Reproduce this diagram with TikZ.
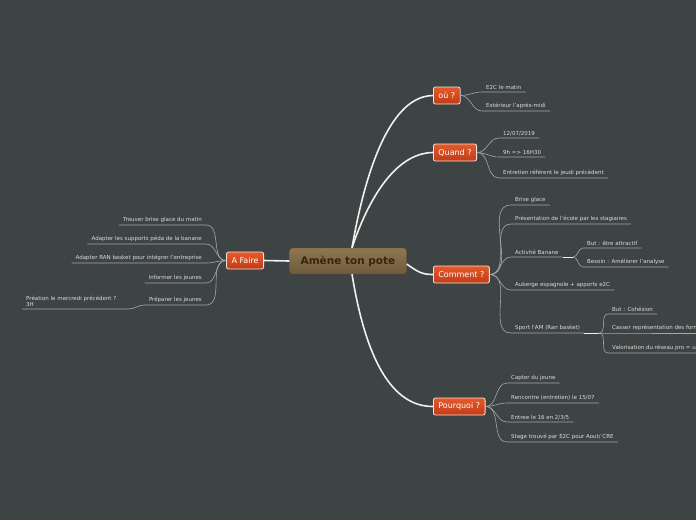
\documentclass[tikz,border=0pt]{standalone}
\usepackage{fontspec}
\setmainfont{DejaVu Sans}
\definecolor{bgc}{RGB}{62,67,67}
\definecolor{leaftext}{RGB}{220,220,220}
\definecolor{ulc}{RGB}{165,168,168}
\definecolor{brtop}{RGB}{228,90,42}
\definecolor{brbot}{RGB}{192,60,24}
\definecolor{brborder}{RGB}{245,225,215}
\definecolor{rttop}{RGB}{143,119,80}
\definecolor{rtbot}{RGB}{110,91,59}
\definecolor{rttext}{RGB}{58,36,15}
\definecolor{trunk}{RGB}{240,240,240}
\begin{document}
\begin{tikzpicture}[x=1pt,y=-1pt,
  rootbox/.style={rounded corners=3pt, top color=rttop, bottom color=rtbot, draw=rtbot!80!black, line width=0.4pt,
    minimum width=117pt, minimum height=26pt, text=rttext, font=\fontsize{10.5}{12}\selectfont\bfseries},
  branch/.style={rounded corners=2pt, top color=brtop, bottom color=brbot, draw=brborder, line width=0.8pt,
    minimum height=17pt, inner xsep=5pt, text=white, font=\fontsize{8}{9}\selectfont},
  leaf/.style={font=\fontsize{5.5}{6.5}\selectfont, text=leaftext, inner xsep=4pt, inner ysep=2.2pt},
  trunkline/.style={draw=trunk, line width=1.6pt},
  twig/.style={draw=ulc, line width=0.6pt},
  joint/.style={draw=trunk, line width=0.8pt}]
\fill[bgc] (0,0) rectangle (696,520);
\useasboundingbox (0,0) rectangle (696,520);
\coordinate (redge) at (696,0);

% root and branches
\node[rootbox] (root) at (348,261) {Amène ton pote};
\node[branch, anchor=west] (ou) at (433,95.5) {où ?};
\node[branch, anchor=west] (quand) at (433,152.5) {Quand ?};
\node[branch, anchor=west] (comment) at (433,274.5) {Comment ?};
\node[branch, anchor=west] (pourquoi) at (433,406.5) {Pourquoi ?};
\node[branch, anchor=east] (afaire) at (264,260.5) {A Faire};

\draw[trunkline] ([xshift=4pt]root.north) .. controls (362,190) and (385,96) .. (ou.west);
\draw[trunkline] ([xshift=4pt]root.north) .. controls (368,200) and (395,153) .. (quand.west);
\draw[trunkline] ([yshift=-3pt]root.east) .. controls (418,272) and (422,274.5) .. (comment.west);
\draw[trunkline] ([xshift=4pt]root.south) .. controls (366,360) and (392,406.5) .. (pourquoi.west);
\draw[trunkline] (root.west) -- (afaire.east);

% où ?
\node[leaf, anchor=south west] (o1) at (482,92) {E2C le matin};
\node[leaf, anchor=south west] (o2) at (482,111) {Extérieur l'après-midi};
\foreach \n in {o1,o2}
  \draw[twig] (ou.east) to[out=0,in=180] (\n.south west) -- (\n.south east);

% Quand ?
\node[leaf, anchor=south west] (q1) at (499,138) {12/07/2019};
\node[leaf, anchor=south west] (q2) at (499,157) {9h => 16H30};
\node[leaf, anchor=south west] (q3) at (499,178) {Entretien référent le jeudi précédent};
\foreach \n in {q1,q2,q3}
  \draw[twig] (quand.east) to[out=0,in=180] (\n.south west) -- (\n.south east);

% Comment ?
\node[leaf, anchor=south west] (c1) at (511,205) {Brise glace};
\node[leaf, anchor=south west] (c2) at (511,224) {Présentation de l'école par les stagiaires};
\node[leaf, anchor=south west] (c3) at (511,257) {Activité Banane};
\node[leaf, anchor=south west] (c4) at (511,290) {Auberge espagnole + apports e2C};
\node[leaf, anchor=south west] (c5) at (511,333) {Sport l'AM (Ran basket)};
\foreach \n in {c1,c2,c3,c4,c5}
  \draw[twig] (comment.east) to[out=0,in=180] (\n.south west) -- (\n.south east);

% Activité Banane
\coordinate (c3j) at (573,257);
\draw[joint] (c3.south east) -- (c3j);
\node[leaf, anchor=south west] (b1) at (583,248) {But : être attractif};
\node[leaf, anchor=south west] (b2) at (583,267) {Besoin :  Améliorer l'analyse};
\foreach \n in {b1,b2}
  \draw[twig] (c3j) to[out=0,in=180] (\n.south west) -- (\n.south east);

% Sport
\coordinate (c5j) at (599,333);
\draw[joint] (c5.south east) -- (c5j);
\node[leaf, anchor=south west] (s1) at (608,314) {But : Cohésion};
\node[leaf, anchor=south west] (s2) at (608,333) {Casser représentation des form};
\node[leaf, anchor=south west] (s3) at (608,353) {Valorisation du réseau pro = u};
\draw[twig] (c5j) to[out=0,in=180] (s1.south west) -- (s1.south east);
\draw[twig] (c5j) to[out=0,in=180] (s2.south west) -- (s2.south west -| redge);
\draw[twig] (c5j) to[out=0,in=180] (s3.south west) -- (s3.south west -| redge);

% Pourquoi ?
\node[leaf, anchor=south west] (p1) at (507,383) {Capter du jeune};
\node[leaf, anchor=south west] (p2) at (507,403) {Rencontre (entretien) le 15/07};
\node[leaf, anchor=south west] (p3) at (507,422) {Entree le 16 en 2/3/5};
\node[leaf, anchor=south west] (p4) at (507,442) {Stage trouvé par E2C pour Aout/ CRE};
\foreach \n in {p1,p2,p3,p4}
  \draw[twig] (pourquoi.east) to[out=0,in=180] (\n.south west) -- (\n.south east);

% A Faire
\node[leaf, anchor=south east] (a1) at (206,225) {Trouver brise glace du matin};
\node[leaf, anchor=south east] (a2) at (206,244) {Adapter les supports péda de la banane};
\node[leaf, anchor=south east] (a3) at (206,263) {Adapter RAN basket pour intégrer l'entreprise};
\node[leaf, anchor=south east] (a4) at (206,283) {Informer les jeunes};
\node[leaf, anchor=south east] (a5) at (206,305) {Préparer les jeunes};
\foreach \n in {a1,a2,a3,a4,a5}
  \draw[twig] (afaire.west) to[out=180,in=0] (\n.south east) -- (\n.south west);

\node[leaf, anchor=south west, text width=98pt, align=left] (a51) at (22,309) {Préation le mercredi précédent ?\\3H};
\draw[twig] (a5.south west) to[out=180,in=0] (a51.south east) -- (a51.south west);
\end{tikzpicture}
\end{document}
